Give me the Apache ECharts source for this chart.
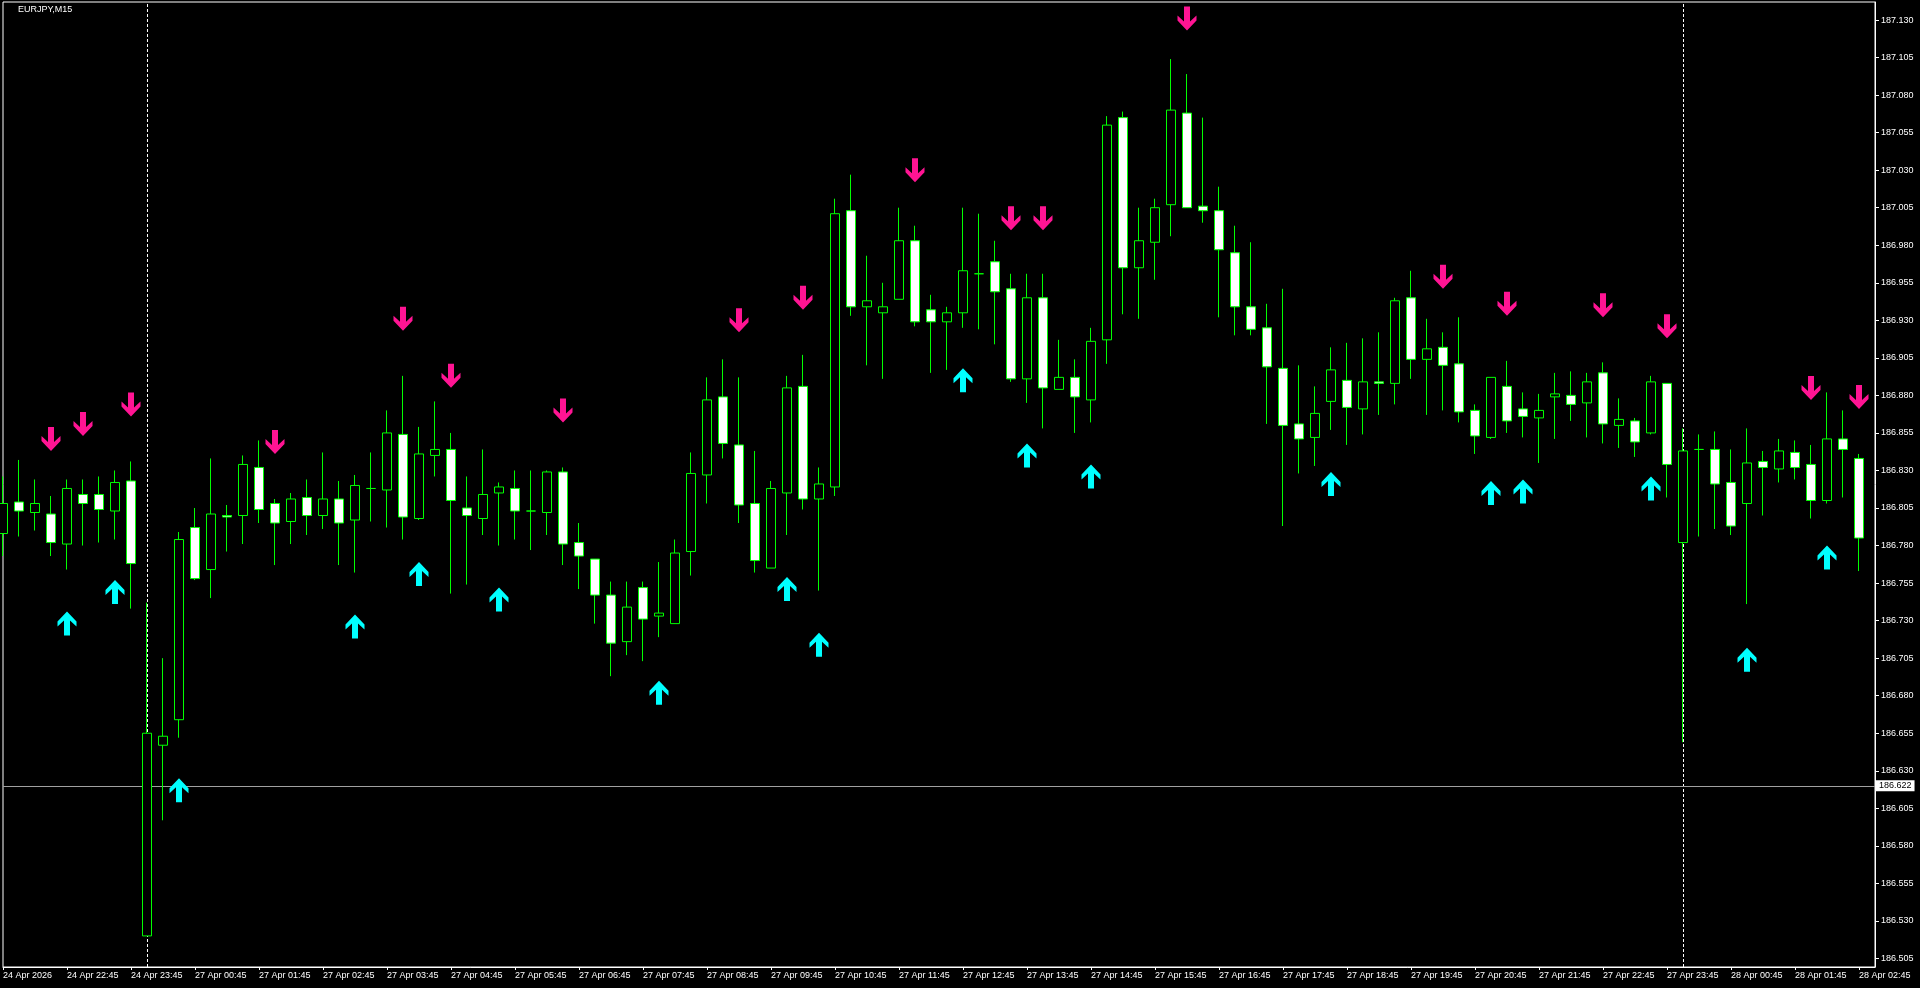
<!DOCTYPE html>
<html><head><meta charset="utf-8">
<script src="https://cdn.jsdelivr.net/npm/echarts@6/dist/echarts.min.js"></script>
<style>html,body{margin:0;padding:0;background:#000;}#c{width:1920px;height:988px;}</style>
</head><body><div id="c"></div>
<script>
const symbolName = 'EURJPY,M15';
const categories = [
'24 Apr 21:45','24 Apr 22:00','24 Apr 22:15','24 Apr 22:30','24 Apr 22:45','24 Apr 23:00','24 Apr 23:15','24 Apr 23:30','24 Apr 23:45',
'27 Apr 00:00','27 Apr 00:15','27 Apr 00:30','27 Apr 00:45','27 Apr 01:00','27 Apr 01:15','27 Apr 01:30','27 Apr 01:45',
'27 Apr 02:00','27 Apr 02:15','27 Apr 02:30','27 Apr 02:45','27 Apr 03:00','27 Apr 03:15','27 Apr 03:30','27 Apr 03:45',
'27 Apr 04:00','27 Apr 04:15','27 Apr 04:30','27 Apr 04:45','27 Apr 05:00','27 Apr 05:15','27 Apr 05:30','27 Apr 05:45',
'27 Apr 06:00','27 Apr 06:15','27 Apr 06:30','27 Apr 06:45','27 Apr 07:00','27 Apr 07:15','27 Apr 07:30','27 Apr 07:45',
'27 Apr 08:00','27 Apr 08:15','27 Apr 08:30','27 Apr 08:45','27 Apr 09:00','27 Apr 09:15','27 Apr 09:30','27 Apr 09:45',
'27 Apr 10:00','27 Apr 10:15','27 Apr 10:30','27 Apr 10:45','27 Apr 11:00','27 Apr 11:15','27 Apr 11:30','27 Apr 11:45',
'27 Apr 12:00','27 Apr 12:15','27 Apr 12:30','27 Apr 12:45','27 Apr 13:00','27 Apr 13:15','27 Apr 13:30','27 Apr 13:45',
'27 Apr 14:00','27 Apr 14:15','27 Apr 14:30','27 Apr 14:45','27 Apr 15:00','27 Apr 15:15','27 Apr 15:30','27 Apr 15:45',
'27 Apr 16:00','27 Apr 16:15','27 Apr 16:30','27 Apr 16:45','27 Apr 17:00','27 Apr 17:15','27 Apr 17:30','27 Apr 17:45',
'27 Apr 18:00','27 Apr 18:15','27 Apr 18:30','27 Apr 18:45','27 Apr 19:00','27 Apr 19:15','27 Apr 19:30','27 Apr 19:45',
'27 Apr 20:00','27 Apr 20:15','27 Apr 20:30','27 Apr 20:45','27 Apr 21:00','27 Apr 21:15','27 Apr 21:30','27 Apr 21:45',
'27 Apr 22:00','27 Apr 22:15','27 Apr 22:30','27 Apr 22:45','27 Apr 23:00','27 Apr 23:15','27 Apr 23:30','27 Apr 23:45',
'28 Apr 00:00','28 Apr 00:15','28 Apr 00:30','28 Apr 00:45','28 Apr 01:00','28 Apr 01:15','28 Apr 01:30','28 Apr 01:45',
'28 Apr 02:00','28 Apr 02:15','28 Apr 02:30','28 Apr 02:45'
];
const timeTickLabels = ['24 Apr 2026','24 Apr 22:45','24 Apr 23:45',
'27 Apr 00:45','27 Apr 01:45','27 Apr 02:45','27 Apr 03:45','27 Apr 04:45','27 Apr 05:45','27 Apr 06:45','27 Apr 07:45',
'27 Apr 08:45','27 Apr 09:45','27 Apr 10:45','27 Apr 11:45','27 Apr 12:45','27 Apr 13:45','27 Apr 14:45','27 Apr 15:45',
'27 Apr 16:45','27 Apr 17:45','27 Apr 18:45','27 Apr 19:45','27 Apr 20:45','27 Apr 21:45','27 Apr 22:45','27 Apr 23:45',
'28 Apr 00:45','28 Apr 01:45','28 Apr 02:45'];
const priceTicks = [186.505,186.530,186.555,186.580,186.605,186.630,186.655,186.680,186.705,186.730,186.755,186.780,186.805,
186.830,186.855,186.880,186.905,186.930,186.955,186.980,187.005,187.030,187.055,187.080,187.105,187.130];

const open = [186.788,186.809,186.802,186.801,186.781,186.814,186.814,186.803,186.823,186.520,
186.647,186.664,186.792,186.764,186.800,186.800,186.832,186.808,186.796,186.812,
186.800,186.811,186.797,186.818,186.817,186.854,186.798,186.840,186.844,186.805,
186.798,186.815,186.818,186.803,186.802,186.829,186.782,186.771,186.747,186.716,
186.752,186.733,186.728,186.776,186.827,186.879,186.847,186.808,186.765,186.815,
186.886,186.811,186.819,187.003,186.939,186.935,186.944,186.983,186.937,186.929,
186.935,186.961,186.969,186.951,186.891,186.945,186.884,186.892,186.877,186.917,
187.065,186.965,186.982,187.007,187.068,187.006,187.003,186.975,186.939,186.925,
186.898,186.861,186.852,186.876,186.890,186.871,186.889,186.888,186.945,186.904,
186.912,186.901,186.870,186.852,186.886,186.871,186.865,186.879,186.880,186.875,
186.895,186.860,186.863,186.855,186.888,186.782,186.844,186.844,186.822,186.808,
186.836,186.831,186.842,186.834,186.810,186.851,186.838];
const close = [186.808,186.803,186.808,186.782,186.818,186.808,186.804,186.822,186.768,186.655,
186.653,186.784,186.758,186.801,186.799,186.834,186.804,186.795,186.811,186.800,
186.811,186.795,186.820,186.818,186.855,186.799,186.841,186.844,186.810,186.800,
186.814,186.819,186.803,186.803,186.829,186.781,186.773,186.747,186.715,186.739,
186.731,186.735,186.775,186.828,186.877,186.848,186.807,186.770,186.818,186.885,
186.811,186.821,187.001,186.939,186.943,186.939,186.983,186.929,186.929,186.935,
186.963,186.961,186.949,186.891,186.945,186.885,186.892,186.879,186.916,187.060,
186.965,186.983,187.005,187.070,187.005,187.003,186.977,186.939,186.924,186.899,
186.860,186.851,186.868,186.897,186.872,186.889,186.888,186.943,186.904,186.911,
186.900,186.869,186.853,186.892,186.863,186.866,186.870,186.881,186.874,186.889,
186.861,186.864,186.849,186.889,186.834,186.843,186.844,186.821,186.793,186.835,
186.832,186.843,186.832,186.810,186.851,186.844,186.785];
const low = [186.773,186.786,186.790,186.773,186.764,186.780,186.782,186.784,186.738,186.520,
186.597,186.652,186.757,186.745,186.776,186.781,186.795,186.767,186.781,186.787,
186.791,186.767,186.762,186.796,186.792,186.784,186.797,186.826,186.748,186.754,
186.787,186.780,186.784,186.777,186.787,186.767,186.751,186.728,186.693,186.707,
186.703,186.719,186.728,186.760,186.808,186.838,186.795,186.762,186.765,186.787,
186.804,186.750,186.813,186.933,186.900,186.891,186.944,186.926,186.895,186.897,
186.925,186.924,186.914,186.889,186.875,186.858,186.884,186.855,186.862,186.901,
186.934,186.931,186.957,186.986,187.005,186.995,186.932,186.920,186.920,186.861,
186.793,186.828,186.833,186.857,186.847,186.854,186.867,186.874,186.891,186.867,
186.870,186.862,186.841,186.851,186.855,186.852,186.835,186.851,186.863,186.852,
186.848,186.845,186.839,186.854,186.812,186.649,186.786,186.791,186.787,186.741,
186.800,186.822,186.824,186.798,186.808,186.812,186.763];
const high = [186.826,186.837,186.824,186.813,186.824,186.824,186.826,186.830,186.836,186.742,
186.705,186.789,186.805,186.838,186.807,186.840,186.850,186.811,186.815,186.824,
186.842,186.823,186.827,186.842,186.870,186.893,186.859,186.876,186.855,186.826,
186.844,186.822,186.830,186.830,186.830,186.832,186.795,186.771,186.756,186.756,
186.756,186.769,186.784,186.842,186.892,186.904,186.892,186.843,186.823,186.893,
186.907,186.832,187.011,187.027,186.973,186.955,187.005,186.993,186.947,186.939,
187.005,187.001,186.983,186.961,186.961,186.961,186.917,186.904,186.925,187.066,
187.069,187.005,187.011,187.104,187.094,187.065,187.019,186.993,186.982,186.941,
186.951,186.900,186.886,186.912,186.915,186.918,186.922,186.945,186.963,186.931,
186.922,186.932,186.874,186.892,186.903,186.882,186.881,186.895,186.896,186.895,
186.902,186.878,186.865,186.893,186.888,186.858,186.854,186.856,186.844,186.858,
186.843,186.851,186.850,186.847,186.882,186.870,186.841];

const sellIdx   = [3,5,8,17,25,28,35,46,50,57,63,65,74,90,94,100,104,113,116];
const sellPrice = [186.851,186.861,186.874,186.849,186.931,186.893,186.870,186.930,186.945,187.030,186.998,186.998,187.131,186.959,186.941,186.940,186.926,186.885,186.879];
const buyIdx    = [4,7,11,22,26,31,41,49,51,60,64,68,83,93,95,103,109,114];
const buyPrice  = [186.728,186.749,186.617,186.726,186.761,186.744,186.682,186.751,186.714,186.890,186.840,186.826,186.821,186.815,186.816,186.818,186.704,186.772];

const daySeparators = ['27 Apr 00:00','28 Apr 00:00'];
const bidPrice = 186.622;

const FONT = 'Liberation Sans, Arial, sans-serif';
const axisCats = categories.concat(['']);
const candleData = open.map((o,i)=>[o, close[i], low[i], high[i]]);
const tickShow = (i)=> i % 4 === 0 && i < categories.length;

const upPath = 'path://M9.5,0 L19,10 L19,15 L12.5,9 L12.5,24 L6.5,24 L6.5,9 L0,15 L0,10 Z';
const downPath = 'path://M9.5,24 L19,14 L19,9 L12.5,15 L12.5,0 L6.5,0 L6.5,15 L0,9 L0,14 Z';

const chart = echarts.init(document.getElementById('c'), null, {renderer:'canvas'});
chart.setOption({
  animation:false,
  backgroundColor:'#000',
  grid:{left:2, right:45, top:2, bottom:21, show:true, borderColor:'#ffffff', borderWidth:1, backgroundColor:'#000'},
  xAxis:{
    type:'category', data:axisCats, boundaryGap:false,
    axisLine:{show:true, lineStyle:{color:'#ffffff', width:1}},
    axisTick:{show:true, interval:tickShow, length:3, lineStyle:{color:'#ffffff'}},
    axisLabel:{interval:tickShow, formatter:(v,i)=>timeTickLabels[i/4] || '', color:'#ffffff', fontSize:9, fontFamily:FONT, align:'left', margin:4, hideOverlap:false},
    splitLine:{show:false}
  },
  yAxis:{
    type:'value', position:'right', min:186.4993, max:187.142, scale:true,
    axisLine:{show:true, lineStyle:{color:'#ffffff', width:1}},
    axisTick:{show:true, customValues:priceTicks, length:4, lineStyle:{color:'#ffffff'}},
    axisLabel:{customValues:priceTicks, formatter:(v)=>Number(v).toFixed(3), color:'#ffffff', fontSize:9, fontFamily:FONT, margin:6},
    splitLine:{show:false}
  },
  graphic:[{type:'text', left:18, top:5, style:{text:symbolName, fill:'#ffffff', font:'9px '+FONT}}],
  series:[
    {
      type:'line', data:[], z:1, silent:true,
      markLine:{
        z:1, silent:true, symbol:['none','none'], animation:false,
        data:[
          {xAxis:daySeparators[0], lineStyle:{color:'#ffffff', type:[3,2], width:1}, label:{show:false}},
          {xAxis:daySeparators[1], lineStyle:{color:'#ffffff', type:[3,2], width:1}, label:{show:false}},
          {yAxis:bidPrice, lineStyle:{color:'#a0a0a0', type:'solid', width:1},
           label:{show:true, position:'end', distance:1, formatter:bidPrice.toFixed(3), color:'#000', backgroundColor:'#ffffff', padding:[1,3,1,3], fontSize:9, fontFamily:FONT}}
        ]
      }
    },
    {
      type:'candlestick', data:candleData, z:6, barWidth:10, clip:true,
      itemStyle:{color:'#000000', color0:'#ffffff', borderColor:'#00ff00', borderColor0:'#00ff00', borderColorDoji:'#00ff00', borderWidth:1}
    },
    {
      type:'scatter', z:8, symbol:downPath, symbolSize:[19,24],
      itemStyle:{color:'#ff1493', opacity:1},
      data:sellIdx.map((x,k)=>[x, sellPrice[k]])
    },
    {
      type:'scatter', z:8, symbol:upPath, symbolSize:[19,24],
      itemStyle:{color:'#00ffff', opacity:1},
      data:buyIdx.map((x,k)=>[x, buyPrice[k]])
    }
  ]
});
</script>
</body></html>
